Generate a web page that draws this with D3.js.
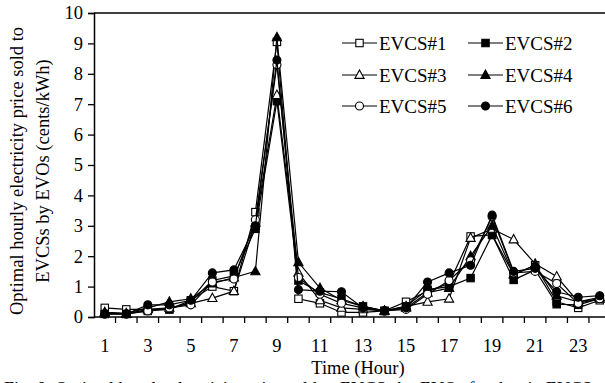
<!DOCTYPE html>
<html>
<head>
<meta charset="utf-8">
<script src="https://cdn.jsdelivr.net/npm/d3@7"></script>
<style>
  html, body { margin: 0; padding: 0; background: #fff; overflow: hidden; }
  text { font-family: "Liberation Serif", "Times New Roman", serif; fill: #000; }
</style>
</head>
<body>
<script>
// hours on the category axis
const hours = d3.range(1, 25);
const xTickLabels = [1, 3, 5, 7, 9, 11, 13, 15, 17, 19, 21, 23];
const yTicks = [0, 1, 2, 3, 4, 5, 6, 7, 8, 9, 10];

// price per station (cents/kWh)
const evcs1 = [0.30, 0.25, 0.25, 0.25, 0.55, 1.00, 0.85, 3.45, 9.05, 0.60, 0.45, 0.15, 0.15, 0.20, 0.50, 0.85, 1.10, 2.65, 2.70, 1.40, 1.70, 0.50, 0.30, 0.55];
const evcs2 = [0.10, 0.10, 0.20, 0.25, 0.50, 1.20, 1.35, 2.90, 7.10, 1.20, 0.80, 0.60, 0.35, 0.20, 0.35, 0.90, 1.00, 1.28, 2.70, 1.22, 1.55, 0.42, 0.40, 0.60];
const evcs3 = [0.15, 0.10, 0.25, 0.30, 0.45, 0.62, 0.85, 3.10, 7.30, 1.45, 0.55, 0.30, 0.25, 0.20, 0.35, 0.50, 0.60, 2.60, 2.90, 2.55, 1.75, 1.33, 0.50, 0.60];
const evcs4 = [0.15, 0.12, 0.30, 0.50, 0.60, 1.10, 1.30, 1.50, 9.20, 1.80, 0.95, 0.55, 0.35, 0.20, 0.30, 0.80, 0.95, 2.00, 3.00, 1.40, 1.70, 0.70, 0.50, 0.65];
const evcs5 = [0.10, 0.10, 0.20, 0.30, 0.40, 1.15, 1.25, 3.20, 8.30, 1.30, 0.75, 0.45, 0.30, 0.20, 0.25, 0.75, 1.20, 1.85, 3.30, 1.45, 1.50, 1.10, 0.45, 0.60];
const evcs6 = [0.10, 0.10, 0.40, 0.40, 0.55, 1.45, 1.55, 3.00, 8.45, 0.90, 0.85, 0.83, 0.30, 0.20, 0.30, 1.15, 1.45, 1.70, 3.35, 1.50, 1.60, 0.83, 0.65, 0.70];

const seriesNames = ["EVCS#1", "EVCS#2", "EVCS#3", "EVCS#4", "EVCS#5", "EVCS#6"];
const seriesValues = [evcs1, evcs2, evcs3, evcs4, evcs5, evcs6];
const markerShapes = ["square", "square", "triangle", "triangle", "circle", "circle"];
const markerFilled = [false, true, false, true, false, true];

const width = 605, height = 383;
const margin = { top: 13, left: 94, bottom: 66 };
const plotRight = 94 + 24 * 21.52;

const svg = d3.select("body").append("svg")
    .attr("width", width)
    .attr("height", height);

const x = d3.scaleBand().domain(hours).range([margin.left, plotRight]);
const y = d3.scaleLinear().domain([0, 10]).range([height - margin.bottom, margin.top]);

// top frame line
svg.append("line")
    .attr("x1", margin.left).attr("x2", plotRight)
    .attr("y1", y(10)).attr("y2", y(10))
    .attr("stroke", "#000").attr("stroke-width", 1.5);

// y axis
const yAxis = svg.append("g")
    .attr("transform", `translate(${margin.left},0)`)
    .call(d3.axisLeft(y).tickValues(yTicks).tickSize(6).tickPadding(5).tickFormat(d3.format("d")));
yAxis.select(".domain").attr("stroke-width", 1.5);
yAxis.selectAll(".tick line").attr("stroke-width", 1.3);
yAxis.selectAll("text").style("font-size", "18.5px").attr("fill", "#000");

// x axis: ticks between categories, labels on odd hours
const xAxisG = svg.append("g")
    .attr("transform", `translate(0,${y(0)})`);
xAxisG.append("line")
    .attr("x1", margin.left).attr("x2", plotRight)
    .attr("stroke", "#000").attr("stroke-width", 1.5);
xAxisG.selectAll(".xtick")
    .data(hours)
    .enter().append("line")
    .attr("class", "xtick")
    .attr("x1", d => x(d) + x.bandwidth()).attr("x2", d => x(d) + x.bandwidth())
    .attr("y1", 0).attr("y2", 6)
    .attr("stroke", "#000").attr("stroke-width", 1.3);
xAxisG.selectAll(".xlabel")
    .data(xTickLabels)
    .enter().append("text")
    .attr("class", "xlabel")
    .attr("x", d => x(d) + x.bandwidth() / 2)
    .attr("y", 35)
    .attr("text-anchor", "middle")
    .style("font-size", "18.5px")
    .text(d => d);

// axis titles
svg.append("text")
    .attr("x", 358).attr("y", 374)
    .attr("text-anchor", "middle")
    .style("font-size", "18.5px")
    .text("Time (Hour)");

const yTitle = svg.append("text")
    .attr("transform", "translate(0,171) rotate(-90)")
    .attr("text-anchor", "middle")
    .style("font-size", "18.5px");
yTitle.append("tspan").attr("x", 0).attr("y", 23).text("Optimal hourly electricity price sold to");
yTitle.append("tspan").attr("x", 0).attr("y", 49).text("EVCSs by EVOs (cents/kWh)");

// figure caption, only its top edge shows at the bottom of the crop
svg.append("text")
    .attr("x", 4).attr("y", 395)
    .style("font-size", "18px")
    .attr("fill", "#777")
    .text("Fig. 8.  Optimal hourly electricity price sold to EVCSs by EVOs for the six EVCSs.");

// markers
function drawMarker(g, shape, filled, cx, cy) {
    const fill = filled ? "#000" : "#fff";
    if (shape === "square") {
        g.append("rect").attr("x", cx - 3.7).attr("y", cy - 3.7)
            .attr("width", 7.4).attr("height", 7.4)
            .attr("fill", fill).attr("stroke", "#000").attr("stroke-width", 1.1);
    } else if (shape === "triangle") {
        g.append("path")
            .attr("d", `M${cx},${cy - 5}L${cx + 4.6},${cy + 3.4}L${cx - 4.6},${cy + 3.4}Z`)
            .attr("fill", fill).attr("stroke", "#000").attr("stroke-width", 1.1);
    } else {
        g.append("circle").attr("cx", cx).attr("cy", cy).attr("r", 4)
            .attr("fill", fill).attr("stroke", "#000").attr("stroke-width", 1.1);
    }
}

const line = d3.line()
    .x((d, i) => x(hours[i]) + x.bandwidth() / 2)
    .y(d => y(d));

seriesValues.forEach((vals, s) => {
    const g = svg.append("g").attr("class", "series");
    g.append("path")
        .datum(vals)
        .attr("d", line)
        .attr("fill", "none")
        .attr("stroke", "#000")
        .attr("stroke-width", 1.2);
    vals.forEach((v, i) => {
        drawMarker(g, markerShapes[s], markerFilled[s], x(hours[i]) + x.bandwidth() / 2, y(v));
    });
});

// legend, two columns by three rows
const legendCols = [342, 468];
const legendRows = [43, 75, 106];
seriesNames.forEach((name, s) => {
    const lx = legendCols[s % 2];
    const ly = legendRows[Math.floor(s / 2)];
    const g = svg.append("g").attr("class", "legend");
    g.append("line")
        .attr("x1", lx).attr("x2", lx + 35)
        .attr("y1", ly).attr("y2", ly)
        .attr("stroke", "#000").attr("stroke-width", 1.2);
    drawMarker(g, markerShapes[s], markerFilled[s], lx + 17.5, ly);
    g.append("text")
        .attr("x", lx + 37).attr("y", ly)
        .attr("dy", "0.35em")
        .style("font-size", "19px")
        .text(name);
});
</script>
</body>
</html>
